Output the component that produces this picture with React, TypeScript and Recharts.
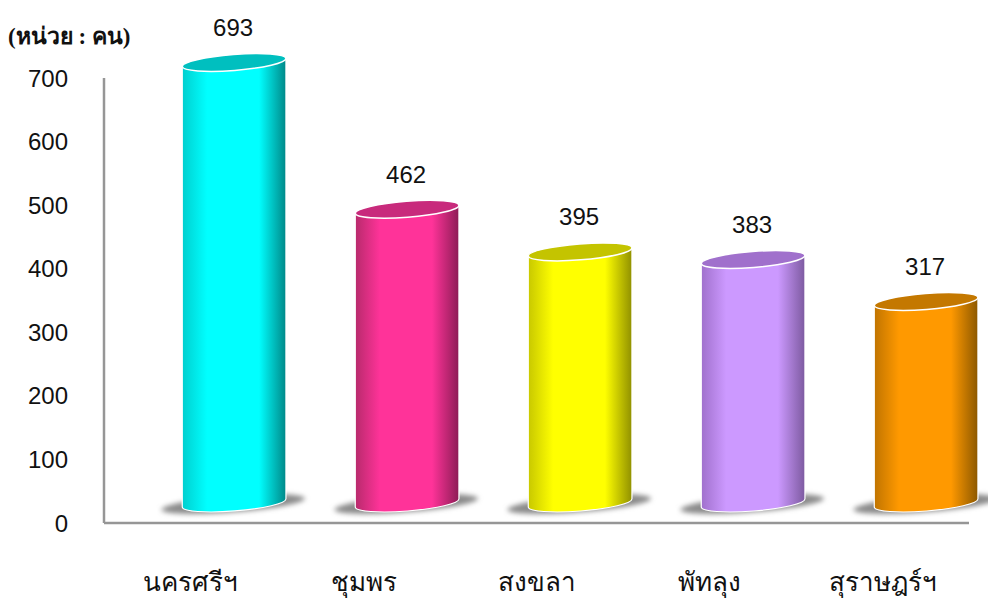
import React from "react";
import { BarChart, Bar, XAxis, YAxis, LabelList } from "recharts";

const categories = ["นครศรีฯ", "ชุมพร", "สงขลา", "พัทลุง", "สุราษฎร์ฯ"];
const values = [693, 462, 395, 383, 317];
const yTicks = [0, 100, 200, 300, 400, 500, 600, 700];
const bodyEdgeLeft = ["#00cfcf", "#b82a6c", "#c8c800", "#a070cc", "#c07400"];
const bodyMain = ["#00ffff", "#ff3399", "#ffff00", "#cc99ff", "#ff9900"];
const bodyEdgeRight = ["#008888", "#8c1c55", "#909000", "#7d5aa0", "#8c5800"];
const topColors = ["#00bfbf", "#c82a7c", "#c4c400", "#a070cc", "#c47800"];
const unitLabel = "(หน่วย : คน)";

const data = categories.map((name, i) => ({ name, value: values[i] }));

const DX = 43.5;
const DY = -20;
const RY = 8;
const TILT = 4.5;

function Cylinder(props: any) {
  const { x, y, width, height, index } = props;
  const cx = x + width / 2 + DX;
  const rx = width / 2;
  const top = y + DY;
  const bottom = y + height + DY;
  const t = (TILT * Math.PI) / 180;
  const ddx = rx * Math.cos(t);
  const ddy = rx * Math.sin(t);
  const id = `cyl-${index}`;
  const body =
    `M${cx - ddx},${top + ddy} L${cx - ddx},${bottom + ddy} ` +
    `A${rx},${RY} ${-TILT} 0 0 ${cx + ddx},${bottom - ddy} ` +
    `L${cx + ddx},${top - ddy} ` +
    `A${rx},${RY} ${-TILT} 0 0 ${cx - ddx},${top + ddy} Z`;
  return (
    <g>
      <defs>
        <linearGradient id={id} x1="0" x2="1" y1="0" y2="0">
          <stop offset="0" stopColor={bodyEdgeLeft[index]} />
          <stop offset="0.24" stopColor={bodyMain[index]} />
          <stop offset="0.74" stopColor={bodyMain[index]} />
          <stop offset="1" stopColor={bodyEdgeRight[index]} />
        </linearGradient>
        <filter id={`blur-${index}`} x="-20%" y="-60%" width="140%" height="220%">
          <feGaussianBlur stdDeviation="2.5" />
        </filter>
      </defs>
      <ellipse
        cx={cx - 1}
        cy={bottom + 1}
        rx={72}
        ry={8}
        fill="#8a8a8a"
        filter={`url(#blur-${index})`}
        transform={`rotate(${-TILT} ${cx} ${bottom})`}
      />
      <path d={body} fill={`url(#${id})`} stroke="#ffffff" strokeWidth={1.2} />
      <ellipse
        cx={cx}
        cy={top}
        rx={rx}
        ry={RY}
        fill={topColors[index]}
        stroke="#ffffff"
        strokeWidth={1.5}
        transform={`rotate(${-TILT} ${cx} ${top})`}
      />
    </g>
  );
}

function ValueLabel(props: any) {
  const { x, y, width, value } = props;
  return (
    <text
      x={x + width / 2 + DX - 1}
      y={y - 55}
      textAnchor="middle"
      dominantBaseline="central"
      fontFamily="Liberation Sans"
      fontSize={24}
      fill="#111111"
    >
      {value}
    </text>
  );
}

export default function App() {
  return (
    <div style={{ position: "absolute", left: 0, top: 0, width: 988, height: 598, overflow: "hidden", background: "#fff" }}>
      <BarChart
        width={988}
        height={598}
        data={data}
        barCategoryGap="20%"
        margin={{ top: 78, right: 19, bottom: 0, left: 0 }}
      >
        <YAxis
          width={104}
          domain={[0, 700]}
          ticks={yTicks}
          interval={0}
          tickLine={false}
          tickMargin={30}
          axisLine={{ stroke: "#969696", strokeWidth: 2.5 }}
          tick={{ fontFamily: "Liberation Sans", fontSize: 24, fill: "#111111" }}
        />
        <XAxis
          dataKey="name"
          height={75}
          interval={0}
          tickLine={false}
          tickMargin={44}
          axisLine={{ stroke: "#969696", strokeWidth: 2.5 }}
          tick={{ fontFamily: "Liberation Serif", fontSize: 26, fill: "#111111" }}
        />
        <Bar dataKey="value" isAnimationActive={false} shape={<Cylinder />}>
          <LabelList dataKey="value" content={<ValueLabel />} />
        </Bar>
      </BarChart>
      <div
        style={{
          position: "absolute",
          left: 8,
          top: 18,
          fontFamily: "Liberation Serif",
          fontWeight: "bold",
          fontSize: 23,
          color: "#111",
          whiteSpace: "nowrap",
        }}
      >
        {unitLabel}
      </div>
    </div>
  );
}
